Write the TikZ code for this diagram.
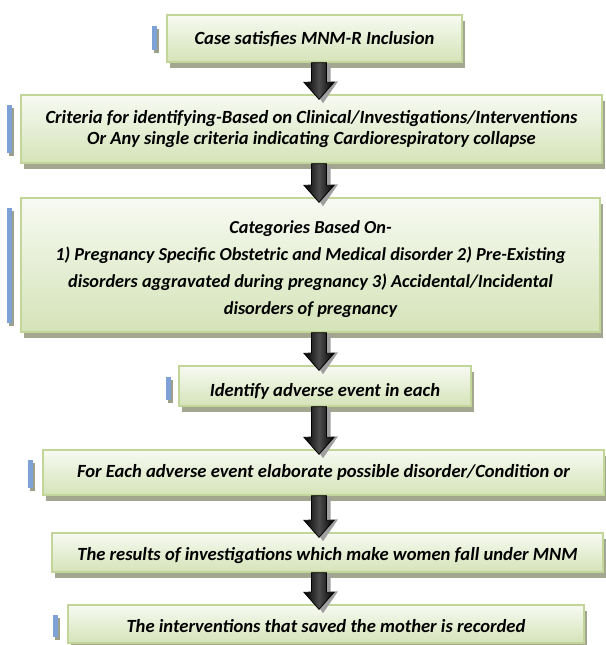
\documentclass[tikz,border=0pt]{standalone}
\usepackage{fontspec}
\setmainfont{Carlito}
\usetikzlibrary{calc,shadows}
\definecolor{boxg}{HTML}{D5E3B8}
\definecolor{boxl}{HTML}{F7FAF2}
\definecolor{boxedge}{HTML}{C2D69A}
\definecolor{shadowc}{HTML}{A4A78F}
\definecolor{barblue}{HTML}{7FA2D6}
\definecolor{barsh}{HTML}{9C9F8A}
\tikzset{
  box/.style={rectangle, draw=boxedge, line width=1.4pt, top color=boxl, bottom color=boxg,
    general shadow={fill=shadowc, shadow xshift=3pt, shadow yshift=-6pt},
    align=center, inner sep=2pt,
    font=\fontsize{18.6}{21}\selectfont\bfseries\itshape},
  barshadow/.style={fill=barsh},
  bar/.style={fill=barblue},
  arrowshadow/.style={fill=gray!75},
  arrowbody/.style={draw=black, line width=0.8pt, left color=black, right color=black, middle color=gray!60!black}
}
\newcommand\flowarrow[2]{%
  \path let \p1=(#1.south -| ax), \p2=(#2.north -| ax) in
    [arrowshadow] (\x1-3.5pt,\y1-2pt) -- (\x1+11.5pt,\y1-2pt) -- (\x1+11.5pt,\y2+17pt-4pt) -- (\x1+19pt,\y2+17pt-4pt)
      -- (\x1+4pt,\y2-9pt) -- (\x1-11pt,\y2+17pt-4pt) -- (\x1-3.5pt,\y2+17pt-4pt) -- cycle;
  \path let \p1=(#1.south -| ax), \p2=(#2.north -| ax) in
    [arrowbody] (\x1-7.5pt,\y1) -- (\x1+7.5pt,\y1) -- (\x1+7.5pt,\y2+12pt) -- (\x1+15pt,\y2+12pt)
      -- (\x1,\y2-5pt) -- (\x1-15pt,\y2+12pt) -- (\x1-7.5pt,\y2+12pt) -- cycle;
}
\newcommand\sidebar[4]{%
  \fill[barshadow] (#1+1.5,#3+3) rectangle (#2+1.5,#4+3);
  \fill[bar] (#1,#3) rectangle (#2,#4);
}
\begin{document}
\begin{tikzpicture}[x=1pt,y=-1pt]
\useasboundingbox (0,0) rectangle (605,645);
\fill[white] (0,0) rectangle (605,645);
\coordinate (ax) at (319,0);

\sidebar{152}{157}{26}{50}
\sidebar{7}{12}{105}{153}
\sidebar{7}{12}{208}{323}
\sidebar{166}{171}{377}{400}
\sidebar{28}{33}{460}{488}
\sidebar{53}{58}{615}{637}

\node[box, minimum width=295pt, minimum height=47pt, text height=17pt, text depth=4.5pt] (b1) at (314.5,38.5) {Case satisfies MNM-R Inclusion};
\node[box, minimum width=581pt, minimum height=68pt] (b2) at (311.5,129)
  {Criteria for identifying-Based on Clinical/Investigations/Interventions\\Or Any single criteria indicating Cardiorespiratory collapse};
\node[box, minimum width=579pt, minimum height=134pt, font=\fontsize{18.3}{26.8}\selectfont\bfseries\itshape] (b3) at (310.5,265)
  {\rule{0pt}{21pt}Categories Based On-\\1) Pregnancy Specific Obstetric and Medical disorder 2) Pre-Existing\\disorders aggravated during pregnancy 3) Accidental/Incidental\\disorders of pregnancy};
\node[box, minimum width=292pt, minimum height=40pt, text height=25pt, text depth=4.5pt] (b4) at (325,386) {Identify adverse event in each};
\node[box, minimum width=561pt, minimum height=45pt, text height=15pt, text depth=4.5pt] (b5) at (323.5,472.5) {For Each adverse event elaborate possible disorder/Condition or};
\node[box, minimum width=551pt, minimum height=39pt, text height=21pt, text depth=4.5pt] (b6) at (327.5,552.5) {The results of investigations which make women fall under MNM};
\node[box, minimum width=516pt, minimum height=38pt, text height=21pt, text depth=4.5pt] (b7) at (326,624) {The interventions that saved the mother is recorded};

\flowarrow{b1}{b2}
\flowarrow{b2}{b3}
\flowarrow{b3}{b4}
\flowarrow{b4}{b5}
\flowarrow{b5}{b6}
\flowarrow{b6}{b7}
\end{tikzpicture}
\end{document}
